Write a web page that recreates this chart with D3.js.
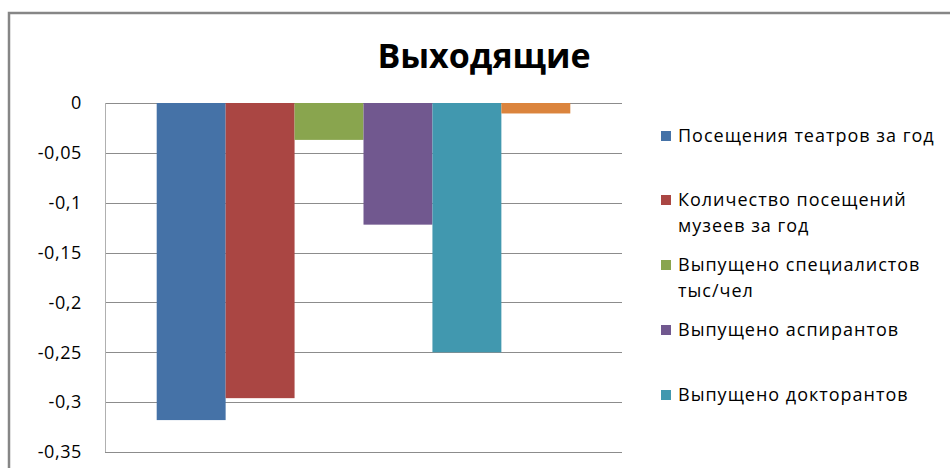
<!DOCTYPE html>
<html><head><meta charset="utf-8">
<script src="https://cdn.jsdelivr.net/npm/d3@7"></script>
<style>html,body{margin:0;padding:0;background:#fff;overflow:hidden}</style>
</head><body>
<svg id="c" width="950" height="468"></svg>
<script>
const title = "Выходящие";
const category = ["Выходящие"];
const seriesNames = ["Посещения театров за год","Количество посещений музеев за год","Выпущено специалистов тыс/чел","Выпущено аспирантов","Выпущено докторантов","Прочее"];
const seriesValues = [-0.318, -0.296, -0.037, -0.122, -0.25, -0.0105];
const seriesColors = ["#4572A7","#AA4643","#89A54E","#71588F","#4198AF","#DB843D"];
const legendLines = [["Посещения театров за год"],["Количество посещений","музеев за год"],["Выпущено специалистов","тыс/чел"],["Выпущено аспирантов"],["Выпущено докторантов"]];
const yTicks = [0,-0.05,-0.1,-0.15,-0.2,-0.25,-0.3,-0.35];
const yTickLabels = ["0","-0,05","-0,1","-0,15","-0,2","-0,25","-0,3","-0,35"];

const svg = d3.select("#c");
const font = "'Open Sans', sans-serif";
// outer border
svg.append("rect").attr("x",9).attr("y",13).attr("width",960).attr("height",480)
  .attr("fill","none").attr("stroke","#868686").attr("stroke-width",2.5);

const plot = {l:105,r:622,t:103,b:452};
const y = d3.scaleLinear().domain([0,-0.35]).range([plot.t,plot.b]);
const x0 = d3.scaleBand().domain(category).range([plot.l,plot.r]).paddingInner(0).paddingOuter(0);
const x1 = d3.scaleBand().domain(seriesNames).range([0,x0.bandwidth()]).paddingOuter(0.75).paddingInner(0);
// gridlines
const g = svg.append("g");
g.selectAll("line.grid").data(yTicks).join("line")
  .attr("x1",plot.l).attr("x2",plot.r).attr("y1",d=>Math.round(y(d))+0.5).attr("y2",d=>Math.round(y(d))+0.5)
  .attr("stroke","#8c8c8c").attr("stroke-width",1);
g.append("line").attr("x1",plot.l+0.5).attr("x2",plot.l+0.5).attr("y1",plot.t).attr("y2",plot.b)
  .attr("stroke","#b0b0b0");
// bars
svg.append("g").selectAll("rect").data(seriesValues).join("rect")
  .attr("x",(d,i)=>x0(category[0])+x1(seriesNames[i]))
  .attr("width",x1.bandwidth())
  .attr("y",d=>y(0))
  .attr("height",d=>y(d)-y(0))
  .attr("fill",(d,i)=>seriesColors[i]);
// y axis labels
const ax = d3.axisLeft(y).tickValues(yTicks).tickSize(0).tickPadding(0)
  .tickFormat((d,i)=>yTickLabels[i]);
const axG = svg.append("g").attr("transform",`translate(82,0)`).call(ax);
axG.select(".domain").remove();
axG.selectAll("text").attr("font-family",font).attr("font-size",18).attr("letter-spacing","0.6px").attr("fill","#000");
// title
svg.append("text").attr("x",484).attr("y",68).attr("text-anchor","middle")
  .attr("font-family",font).attr("font-weight","bold").attr("font-size",34).text(title);
// legend
const legY = [136,200,265,330,395];
const lg = svg.append("g");
legendLines.forEach((lines,i)=>{
  lg.append("rect").attr("x",661).attr("y",legY[i]-5).attr("width",10).attr("height",10).attr("fill",seriesColors[i]);
  lines.forEach((t,j)=>{
    lg.append("text").attr("x",678).attr("y",legY[i]+j*26).attr("dy","0.35em")
      .attr("font-family",font).attr("font-size",18).attr("letter-spacing","1px").attr("fill","#000").text(t);
  });
});
</script>
</body></html>
